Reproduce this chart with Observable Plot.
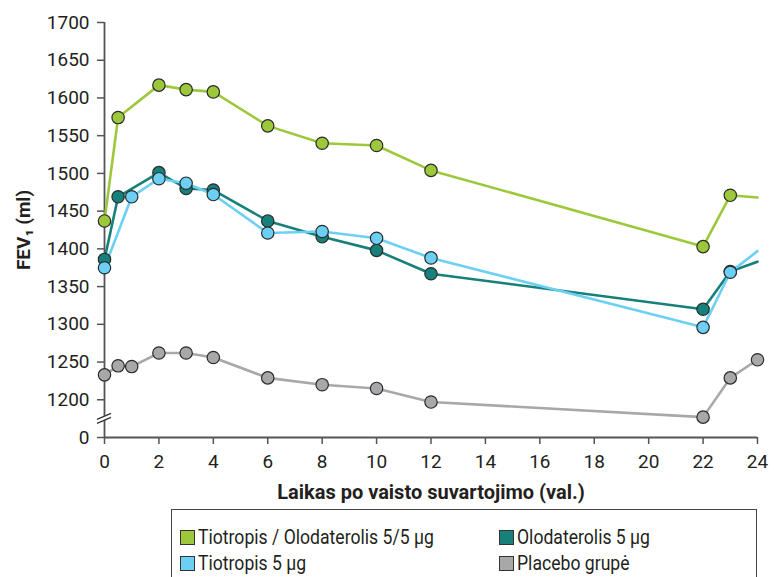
<!DOCTYPE html>
<html>
<head>
<meta charset="utf-8">
<script src="https://cdn.jsdelivr.net/npm/d3@7"></script>
<script src="https://cdn.jsdelivr.net/npm/@observablehq/plot@0.6"></script>
<style>
  body { margin: 0; background: #fff; font-family: Roboto, sans-serif; }
  #chart { width: 774px; }
  #chart svg { display: block; }
  g[aria-label="x-axis tick label"] text, g[aria-label="y-axis tick label"] text { fill: #231f20; }
  #legend { position: relative; margin-left: 171px; margin-top: 4px; width: 586px; height: 80px;
    border: 1.5px solid #444; box-sizing: border-box; }
  .item { position: absolute; display: flex; align-items: center; font-size: 20px; line-height: 24px; color: #231f20; white-space: nowrap; }
  .item span { display: inline-block; transform: scaleX(0.88); transform-origin: left center; }
  .sw { width: 15px; height: 15px; border: 1.4px solid #333; margin-right: 3px; box-sizing: border-box; }
</style>
</head>
<body>
<div id="chart"></div>
<div id="legend"></div>
<script>
// ---- data ----
const seriesNames = ["Tiotropis / Olodaterolis 5/5 µg", "Olodaterolis 5 µg", "Tiotropis 5 µg", "Placebo grupė"];
const seriesColors = ["#9dc83b", "#17807a", "#6cd0f5", "#a8a8aa"];

const hoursTO = [0, 0.5, 2, 3, 4, 6, 8, 10, 12, 22, 23];
const fevTO   = [1437, 1574, 1617, 1611, 1608, 1563, 1540, 1537, 1504, 1403, 1471];
const endTO = 1468;

const hoursO = [0, 0.5, 2, 3, 4, 6, 8, 10, 12, 22, 23];
const fevO   = [1386, 1469, 1501, 1480, 1478, 1437, 1416, 1398, 1367, 1320, 1370];
const endO = 1383;

const hoursT = [0, 1, 2, 3, 4, 6, 8, 10, 12, 22, 23];
const fevT   = [1375, 1469, 1493, 1487, 1472, 1421, 1423, 1414, 1388, 1296, 1369];
const endT = 1397;

const hoursP = [0, 0.5, 1, 2, 3, 4, 6, 8, 10, 12, 22, 23, 24];
const fevP   = [1233, 1245, 1244, 1262, 1262, 1256, 1229, 1220, 1215, 1197, 1177, 1229, 1253];

const endHour = 24;
const xTicks = [0, 2, 4, 6, 8, 10, 12, 14, 16, 18, 20, 22, 24];
const yTicks = [1150, 1200, 1250, 1300, 1350, 1400, 1450, 1500, 1550, 1600, 1650, 1700];
const yZeroAt = 1150;   // the "0" tick sits at the axis break
const breakAt = 1172;
const xLabel = "Laikas po vaisto suvartojimo (val.)";
const yLabel = "FEV\u2081 (ml)";

// ---- build tables ----
const dots = [], lines = [];
function add(name, hs, vs, end) {
  hs.forEach((h, i) => { dots.push({series: name, hour: h, fev: vs[i]}); lines.push({series: name, hour: h, fev: vs[i]}); });
  if (end !== undefined) lines.push({series: name, hour: endHour, fev: end});
}
add(seriesNames[3], hoursP, fevP);
add(seriesNames[1], hoursO, fevO, endO);
add(seriesNames[2], hoursT, fevT, endT);
add(seriesNames[0], hoursTO, fevTO, endTO);

const axisBreak = (index, scales) => {
  const x0 = scales.x(0), yb = scales.y(breakAt);
  const g = d3.create("svg:g");
  g.append("path").attr("d", `M${x0-7},${yb+2.5}L${x0+7},${yb-3.5}L${x0+7},${yb-7.5}L${x0-7},${yb-1.5}Z`).attr("fill", "white");
  g.append("path").attr("d", `M${x0-7},${yb+3}L${x0+7},${yb-3}M${x0-7},${yb-1}L${x0+7},${yb-7}`)
    .attr("stroke", "#333").attr("stroke-width", 1.3).attr("fill", "none");
  return g.node();
};

const plot = Plot.plot({
  width: 774, height: 505,
  marginLeft: 104, marginRight: 17, marginTop: 22, marginBottom: 68,
  style: {fontFamily: "Roboto, sans-serif", fontSize: "19px", color: "#231f20", background: "white"},
  x: {domain: [0, 24]},
  y: {domain: [1150, 1700]},
  color: {domain: seriesNames, range: seriesColors},
  marks: [
    Plot.axisY({ticks: yTicks, tickSize: 7, tickPadding: 8, fontSize: 19, tickFormat: d => d === yZeroAt ? "0" : String(d), label: null, stroke: "#555", strokeWidth: 1.5}),
    Plot.axisX({ticks: xTicks, tickSize: 7, tickPadding: 10, fontSize: 19, label: null, stroke: "#555", strokeWidth: 1.5}),
    Plot.ruleX([0], {y1: 1150, y2: 1700, stroke: "#555", strokeWidth: 1.8}),
    Plot.ruleY([1150], {x1: 0, x2: 24, stroke: "#555", strokeWidth: 1.8}),
    axisBreak,
    Plot.line(lines, {x: "hour", y: "fev", z: "series", stroke: "series", strokeWidth: 2.6}),
    Plot.dot(dots, {x: "hour", y: "fev", fill: "series", r: 6.2, stroke: "#2b2b2b", strokeWidth: 1.2}),
    Plot.text([xLabel], {frameAnchor: "bottom", dy: 61, text: d => d, fontWeight: "bold", fontSize: 20, fill: "#231f20"}),
    Plot.text([yLabel], {frameAnchor: "left", textAnchor: "middle", dx: -81, rotate: -90, text: d => d, fontWeight: "bold", fontSize: 19, fill: "#231f20"})
  ]
});
document.getElementById("chart").appendChild(plot);

// ---- legend ----
const legend = d3.select("#legend");
const pos = [[8, 27], [327, 27], [8, 53], [327, 53]];
seriesNames.forEach((name, i) => {
  const it = legend.append("div").attr("class", "item").style("left", pos[i][0] + "px").style("top", (pos[i][1] - 12) + "px");
  it.append("div").attr("class", "sw").style("background", seriesColors[i]);
  it.append("span").text(name);
});
</script>
</body>
</html>
